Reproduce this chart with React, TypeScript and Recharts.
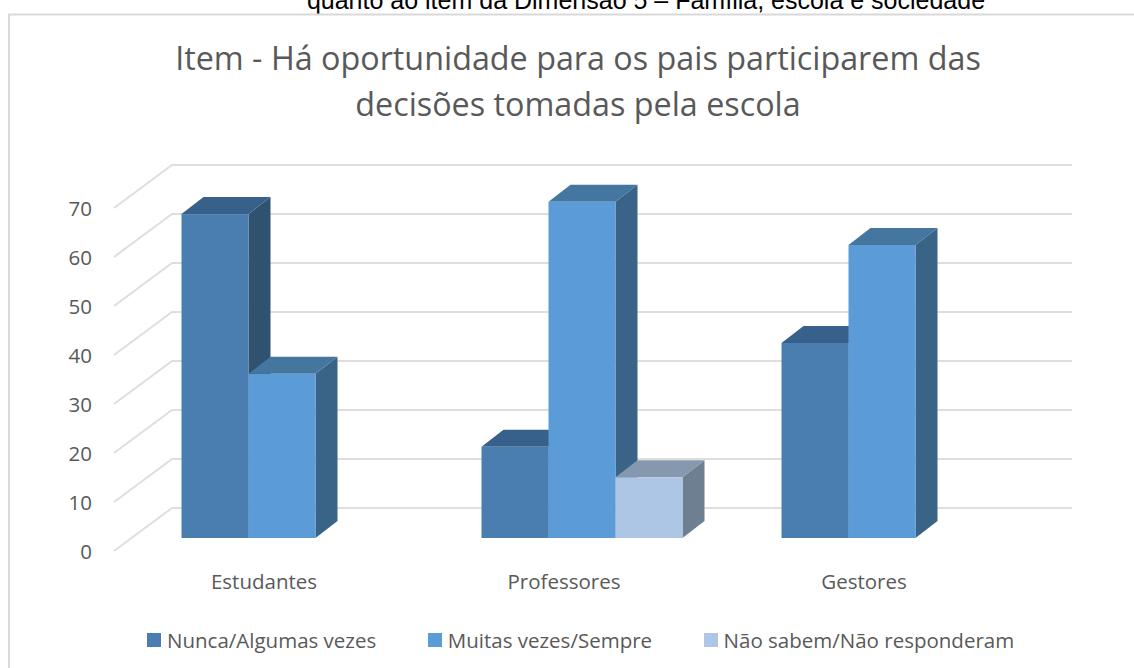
import { BarChart, Bar, XAxis, YAxis, CartesianGrid, Legend } from "recharts";

const categories = ["Estudantes", "Professores", "Gestores"];
const nunca = [66.1, 18.6, 39.8];
const muitas = [33.5, 68.6, 59.8];
const naoSabem = [null, 12.4, null];
const yTicks = [0, 10, 20, 30, 40, 50, 60, 70];

const seriesNames = ["Nunca/Algumas vezes", "Muitas vezes/Sempre", "Não sabem/Não responderam"];

const data = categories.map((name, i) => ({
  name,
  nunca: nunca[i],
  muitas: muitas[i],
  naoSabem: naoSabem[i],
}));

const FONT = "'Open Sans', sans-serif";
const TEXT = "#595959";
const GRID = "#dedede";

// walls of the fake 3d box
const WALL_DX = 58;
const WALL_DY = 43;
// the bars stand in the middle of the floor
const BAR_SHIFT_X = 17.5;
const BAR_SHIFT_Y = 13;
const BAR_DX = 22;
const BAR_DY = 17;

function GridLine(props: any) {
  const { x1, x2, y1 } = props;
  return (
    <polyline
      points={`${x1},${y1} ${x1 + WALL_DX},${y1 - WALL_DY} ${x2 + WALL_DX},${y1 - WALL_DY}`}
      fill="none"
      stroke={GRID}
      strokeWidth={2}
    />
  );
}

function bar3d(front: string, top: string, side: string) {
  return function Bar3d(props: any) {
    const { x, y, width, height, value } = props;
    if (value == null || !height) return <g />;
    const l = x + BAR_SHIFT_X;
    const r = l + width;
    const t = y - BAR_SHIFT_Y;
    const b = t + height;
    return (
      <g>
        <polygon
          points={`${r},${t} ${r + BAR_DX},${t - BAR_DY} ${r + BAR_DX},${b - BAR_DY} ${r},${b}`}
          fill={side}
        />
        <polygon
          points={`${l},${t} ${l + BAR_DX},${t - BAR_DY} ${r + BAR_DX},${t - BAR_DY} ${r},${t}`}
          fill={top}
        />
        <rect x={l} y={t} width={width} height={height} fill={front} />
      </g>
    );
  };
}

function LegendContent({ payload }: any) {
  return (
    <div style={{ display: "flex", fontFamily: FONT, fontSize: 20.5, color: TEXT, lineHeight: "28px", whiteSpace: "nowrap" }}>
      {(payload || []).map((item: any) => (
        <div key={item.value} style={{ display: "flex", alignItems: "center", marginRight: 51.5 }}>
          <span style={{ width: 14, height: 14, background: item.color, marginRight: 6 }} />
          {item.value}
        </div>
      ))}
    </div>
  );
}

export default function App() {
  return (
    <div style={{ position: "absolute", left: 0, top: 0, width: 1134, height: 668, overflow: "hidden", background: "#fff" }}>
      <BarChart
        width={1134}
        height={668}
        data={data}
        margin={{ top: 208, right: 120, left: 0, bottom: 17 }}
        barCategoryGap={50}
        barGap={0}
      >
        <text x={646} y={9} textAnchor="middle" fontFamily="'Liberation Sans', Arial, sans-serif" fontSize={25} fill="#000">
          quanto ao item da Dimensão 5 – Família, escola e sociedade
        </text>
        <polyline points="9,668 9,14.5 1134,14.5" fill="none" stroke="#d9d9d9" strokeWidth={2} />
        <text textAnchor="middle" fontFamily={FONT} fontSize={32.3} fill={TEXT}>
          <tspan x={578} y={70}>Item - Há oportunidade para os pais participarem das</tspan>
          <tspan x={578} y={116}>decisões tomadas pela escola</tspan>
        </text>
        <CartesianGrid vertical={false} horizontal={(p: any) => <GridLine key={p.key} {...p} />} />
        <XAxis
          dataKey="name"
          height={50}
          axisLine={false}
          tickLine={false}
          tickSize={0}
          tickMargin={23}
          tick={{ fontFamily: FONT, fontSize: 20.5, fill: TEXT }}
        />
        <YAxis
          width={114}
          domain={[0, 70]}
          ticks={yTicks}
          interval={0}
          axisLine={false}
          tickLine={false}
          tickSize={0}
          tickMargin={22}
          tick={{ fontFamily: FONT, fontSize: 20.5, fill: TEXT, dy: 1 }}
        />
        <Legend
          verticalAlign="bottom"
          height={50}
          itemSorter={null}
          content={<LegendContent />}
          wrapperStyle={{ left: 147, width: 980, bottom: -8 }}
        />
        <Bar
          dataKey="nunca"
          name={seriesNames[0]}
          fill="#4a7eb1"
          isAnimationActive={false}
          shape={bar3d("#4a7eb1", "#37608a", "#2e5270")}
        />
        <Bar
          dataKey="muitas"
          name={seriesNames[1]}
          fill="#5b9bd8"
          isAnimationActive={false}
          shape={bar3d("#5b9bd8", "#44769f", "#396488")}
        />
        <Bar
          dataKey="naoSabem"
          name={seriesNames[2]}
          fill="#adc6e5"
          isAnimationActive={false}
          shape={bar3d("#adc6e5", "#8598ae", "#6e7f92")}
        />
      </BarChart>
    </div>
  );
}
